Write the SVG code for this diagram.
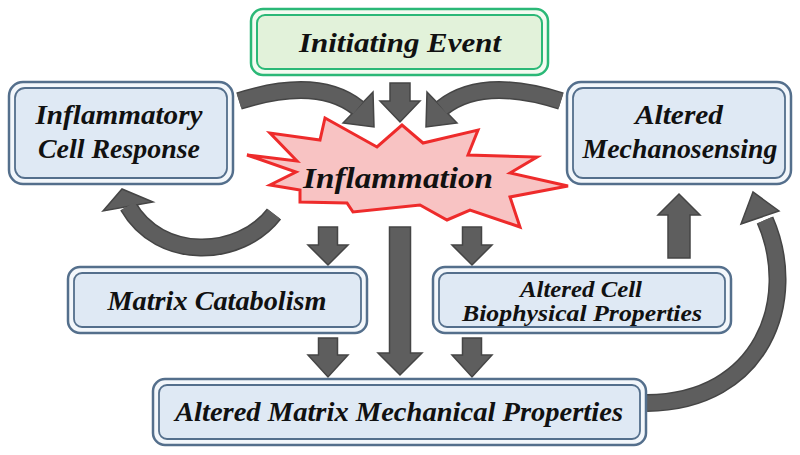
<svg xmlns="http://www.w3.org/2000/svg" width="800" height="455" viewBox="0 0 800 455">
<defs>
<style>
.bo{fill:#f3f7fb;stroke:#546f8c;stroke-width:2.5}
.bi{fill:#dfe9f4;stroke:#546f8c;stroke-width:1.8}
.t{font-family:"Liberation Serif","DejaVu Serif",serif;font-style:italic;font-weight:bold;fill:#111;text-anchor:middle}
.ar{fill:#5e5e5e;stroke:#454545;stroke-width:1.5;stroke-linejoin:miter}
.sd{fill:none;stroke:#454545;stroke-width:18}
.sl{fill:none;stroke:#5e5e5e;stroke-width:15}
</style>
</defs>
<rect width="800" height="455" fill="#fff"/>

<g id="connectors">
<polygon class="ar" points="390,83 410,83 410,101 420,101 400,122 380,101 390,101"/>
<polygon class="ar" points="318.5,227 337.5,227 337.5,245 348,245 328,265 308,245 318.5,245"/>
<polygon class="ar" points="462.5,227 481.5,227 481.5,245 492,245 472,265 452,245 462.5,245"/>
<polygon class="ar" points="389.5,227 410.5,227 410.5,353 422,353 400,375 378,353 389.5,353"/>
<polygon class="ar" points="318.5,338 337.5,338 337.5,355 348,355 328,377 308,355 318.5,355"/>
<polygon class="ar" points="462.5,338 481.5,338 481.5,355 492,355 472,377 452,355 462.5,355"/>
<polygon class="ar" points="668,258 690,258 690,215 700,215 679,194 658,215 668,215"/>
<path class="sd" d="M239,101 Q318,76 358,108"/>
<polygon class="ar" points="343,123 373,92 374,127"/>
<path class="sl" d="M239,101 Q318,76 358,108"/>
<path class="sd" d="M561,101 Q482,76 442,108"/>
<polygon class="ar" points="457,123 427,92 426,127"/>
<path class="sl" d="M561,101 Q482,76 442,108"/>
<path class="sd" d="M274,214 C240,258 160,262 128,206"/>
<polygon class="ar" points="103,211 122,189 153,202"/>
<path class="sl" d="M274,214 C240,258 160,262 128,206"/>
<path class="sd" d="M647,403 C762,402 800,300 765,220"/>
<polygon class="ar" points="741,224 753,192 779,211"/>
<path class="sl" d="M647,403 C762,402 800,300 765,220"/>
</g>

<g id="initiating-event">
<rect x="251" y="9" width="297" height="66" rx="12" fill="#f4fbf1" stroke="#2bb877" stroke-width="2.5"/>
<rect x="257" y="15" width="285" height="54" rx="8" fill="#e2f2da" stroke="#2bb877" stroke-width="2"/>
<text class="t" x="400" y="52" font-size="28" fill="#1b2a12" textLength="202" lengthAdjust="spacingAndGlyphs">Initiating Event</text>
</g>

<g id="inflammatory-cell-response">
<rect class="bo" x="9" y="82" width="224" height="102" rx="14"/>
<rect class="bi" x="15" y="88" width="212" height="90" rx="10"/>
<text class="t" x="119" y="124" font-size="27" textLength="167" lengthAdjust="spacingAndGlyphs">Inflammatory</text>
<text class="t" x="119" y="158" font-size="27" textLength="162" lengthAdjust="spacingAndGlyphs">Cell Response</text>
</g>

<g id="altered-mechanosensing">
<rect class="bo" x="567" y="82" width="224" height="102" rx="14"/>
<rect class="bi" x="573" y="88" width="212" height="90" rx="10"/>
<text class="t" x="679" y="124" font-size="27" textLength="88" lengthAdjust="spacingAndGlyphs">Altered</text>
<text class="t" x="680" y="158" font-size="27" textLength="195" lengthAdjust="spacingAndGlyphs">Mechanosensing</text>
</g>

<g id="inflammation">
<polygon points="247,155 297,161 270,133 320,140 325,118 377,147 402,125 423,143 478,130 468,155 537,157 510,173 568,186 510,197 520,227 470,210 447,220 420,205 353,212 347,203 300,202 300,190 270,185 296,172" fill="#f8c3c3" stroke="#ee2b2b" stroke-width="3" stroke-linejoin="miter"/>
<text class="t" x="398" y="188" font-size="30" textLength="190" lengthAdjust="spacingAndGlyphs">Inflammation</text>
</g>

<g id="matrix-catabolism">
<rect class="bo" x="68" y="267" width="299" height="66" rx="12"/>
<rect class="bi" x="74" y="273" width="287" height="54" rx="8"/>
<text class="t" x="217" y="310" font-size="27" textLength="219" lengthAdjust="spacingAndGlyphs">Matrix Catabolism</text>
</g>

<g id="altered-cell-biophysical-properties">
<rect class="bo" x="433" y="267" width="298" height="66" rx="12"/>
<rect class="bi" x="439" y="273" width="286" height="54" rx="8"/>
<text class="t" x="581" y="297" font-size="24" textLength="122" lengthAdjust="spacingAndGlyphs">Altered Cell</text>
<text class="t" x="582" y="321" font-size="24" textLength="240" lengthAdjust="spacingAndGlyphs">Biophysical Properties</text>
</g>

<g id="altered-matrix-mechanical-properties">
<rect class="bo" x="153" y="379" width="493" height="66" rx="12"/>
<rect class="bi" x="159" y="385" width="481" height="54" rx="8"/>
<text class="t" x="399" y="421" font-size="28" textLength="448" lengthAdjust="spacingAndGlyphs">Altered Matrix Mechanical Properties</text>
</g>
</svg>
